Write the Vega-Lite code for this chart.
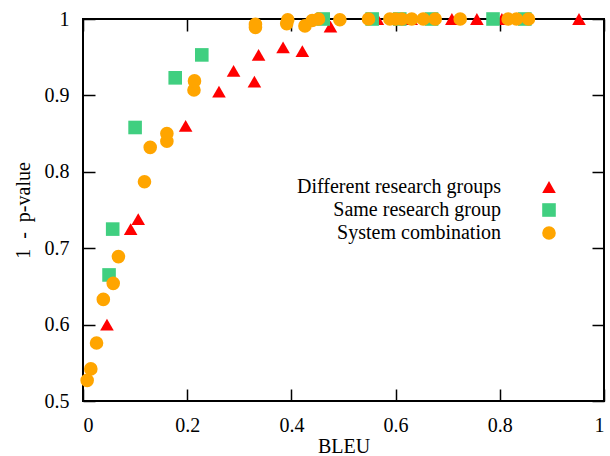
{
  "$schema": "https://vega.github.io/schema/vega-lite/v6.json",
  "width": 521,
  "height": 382,
  "autosize": {"type": "none"},
  "padding": {"left": 83, "top": 19, "right": 6, "bottom": 55},
  "background": "white",
  "config": {
    "view": {"stroke": "#000", "strokeWidth": 2},
    "font": "Liberation Serif",
    "axis": {
      "grid": false,
      "domain": false,
      "tickColor": "#000",
      "tickWidth": 1.5,
      "tickSize": -12,
      "labelFont": "Liberation Serif",
      "labelFontSize": 20,
      "labelColor": "#000",
      "titleFont": "Liberation Serif",
      "titleFontSize": 20,
      "titleFontWeight": "normal",
      "titleColor": "#000"
    },
    "legend": {
      "labelFont": "Liberation Serif",
      "labelFontSize": 20,
      "labelColor": "#000",
      "labelLimit": 400
    }
  },
  "data": {
    "values": [
      {"series": "Different research groups", "bleu": 0.046, "p": 0.600},
      {"series": "Different research groups", "bleu": 0.0915, "p": 0.725},
      {"series": "Different research groups", "bleu": 0.106, "p": 0.738},
      {"series": "Different research groups", "bleu": 0.197, "p": 0.860},
      {"series": "Different research groups", "bleu": 0.261, "p": 0.905},
      {"series": "Different research groups", "bleu": 0.289, "p": 0.932},
      {"series": "Different research groups", "bleu": 0.329, "p": 0.918},
      {"series": "Different research groups", "bleu": 0.337, "p": 0.953},
      {"series": "Different research groups", "bleu": 0.384, "p": 0.963},
      {"series": "Different research groups", "bleu": 0.421, "p": 0.958},
      {"series": "Different research groups", "bleu": 0.475, "p": 0.990},
      {"series": "Different research groups", "bleu": 0.565, "p": 1.0},
      {"series": "Different research groups", "bleu": 0.63, "p": 1.0},
      {"series": "Different research groups", "bleu": 0.66, "p": 1.0},
      {"series": "Different research groups", "bleu": 0.708, "p": 1.0},
      {"series": "Different research groups", "bleu": 0.756, "p": 1.0},
      {"series": "Different research groups", "bleu": 0.804, "p": 1.0},
      {"series": "Different research groups", "bleu": 0.952, "p": 1.0},
      {"series": "Same research group", "bleu": 0.050, "p": 0.665},
      {"series": "Same research group", "bleu": 0.057, "p": 0.725},
      {"series": "Same research group", "bleu": 0.100, "p": 0.858},
      {"series": "Same research group", "bleu": 0.177, "p": 0.923},
      {"series": "Same research group", "bleu": 0.228, "p": 0.953},
      {"series": "Same research group", "bleu": 0.461, "p": 1.0},
      {"series": "Same research group", "bleu": 0.555, "p": 1.0},
      {"series": "Same research group", "bleu": 0.608, "p": 1.0},
      {"series": "Same research group", "bleu": 0.669, "p": 1.0},
      {"series": "Same research group", "bleu": 0.787, "p": 1.0},
      {"series": "Same research group", "bleu": 0.848, "p": 1.0},
      {"series": "System combination", "bleu": 0.008, "p": 0.527},
      {"series": "System combination", "bleu": 0.015, "p": 0.542},
      {"series": "System combination", "bleu": 0.026, "p": 0.576},
      {"series": "System combination", "bleu": 0.039, "p": 0.633},
      {"series": "System combination", "bleu": 0.058, "p": 0.654},
      {"series": "System combination", "bleu": 0.068, "p": 0.689},
      {"series": "System combination", "bleu": 0.118, "p": 0.787},
      {"series": "System combination", "bleu": 0.129, "p": 0.832},
      {"series": "System combination", "bleu": 0.161, "p": 0.840},
      {"series": "System combination", "bleu": 0.161, "p": 0.850},
      {"series": "System combination", "bleu": 0.213, "p": 0.907},
      {"series": "System combination", "bleu": 0.214, "p": 0.919},
      {"series": "System combination", "bleu": 0.331, "p": 0.989},
      {"series": "System combination", "bleu": 0.331, "p": 0.993},
      {"series": "System combination", "bleu": 0.391, "p": 0.994},
      {"series": "System combination", "bleu": 0.393, "p": 0.999},
      {"series": "System combination", "bleu": 0.426, "p": 0.991},
      {"series": "System combination", "bleu": 0.44, "p": 0.998},
      {"series": "System combination", "bleu": 0.452, "p": 1.0},
      {"series": "System combination", "bleu": 0.493, "p": 0.999},
      {"series": "System combination", "bleu": 0.548, "p": 1.0},
      {"series": "System combination", "bleu": 0.589, "p": 1.0},
      {"series": "System combination", "bleu": 0.600, "p": 1.0},
      {"series": "System combination", "bleu": 0.612, "p": 1.0},
      {"series": "System combination", "bleu": 0.631, "p": 1.0},
      {"series": "System combination", "bleu": 0.653, "p": 1.0},
      {"series": "System combination", "bleu": 0.676, "p": 1.0},
      {"series": "System combination", "bleu": 0.724, "p": 1.0},
      {"series": "System combination", "bleu": 0.816, "p": 1.0},
      {"series": "System combination", "bleu": 0.832, "p": 1.0},
      {"series": "System combination", "bleu": 0.855, "p": 1.0}
    ]
  },
  "layer": [
    {
      "mark": {"type": "point", "filled": true, "opacity": 1, "size": 185, "clip": false},
      "encoding": {
        "x": {"field": "bleu", "type": "quantitative", "scale": {"domain": [0, 1], "nice": false, "zero": false},
              "axis": {"orient": "bottom", "title": "BLEU", "values": [0, 0.2, 0.4, 0.6, 0.8, 1], "format": "~g", "labelPadding": 26, "titlePadding": 1}},
        "y": {"field": "p", "type": "quantitative", "scale": {"domain": [0.5, 1], "nice": false, "zero": false},
              "axis": {"orient": "left", "title": "1 \u00a0-\u00a0 p-value", "values": [0.5, 0.6, 0.7, 0.8, 0.9, 1], "format": "~g", "labelPadding": 26, "titlePadding": 11}},
        "color": {"field": "series", "type": "nominal",
                  "scale": {"domain": ["Different research groups", "Same research group", "System combination"], "range": ["#ff0000", "#40cf80", "#ffa500"]},
                  "legend": {"title": null, "orient": "none", "legendX": 456, "legendY": 158, "labelAlign": "right", "labelOffset": -58, "rowPadding": 3, "padding": 0, "symbolSize": 185, "symbolStrokeWidth": 0}},
        "shape": {"field": "series", "type": "nominal",
                  "scale": {"domain": ["Different research groups", "Same research group", "System combination"], "range": ["triangle-up", "square", "circle"]}}
      }
    },
    {
      "mark": {"type": "point", "opacity": 0},
      "encoding": {
        "x": {"field": "bleu", "type": "quantitative", "axis": {"orient": "top", "title": null, "labels": false, "values": [0, 0.2, 0.4, 0.6, 0.8, 1]}},
        "y": {"field": "p", "type": "quantitative", "axis": {"orient": "right", "title": null, "labels": false, "values": [0.5, 0.6, 0.7, 0.8, 0.9, 1]}}
      }
    }
  ],
  "resolve": {"axis": {"x": "independent", "y": "independent"}}
}
